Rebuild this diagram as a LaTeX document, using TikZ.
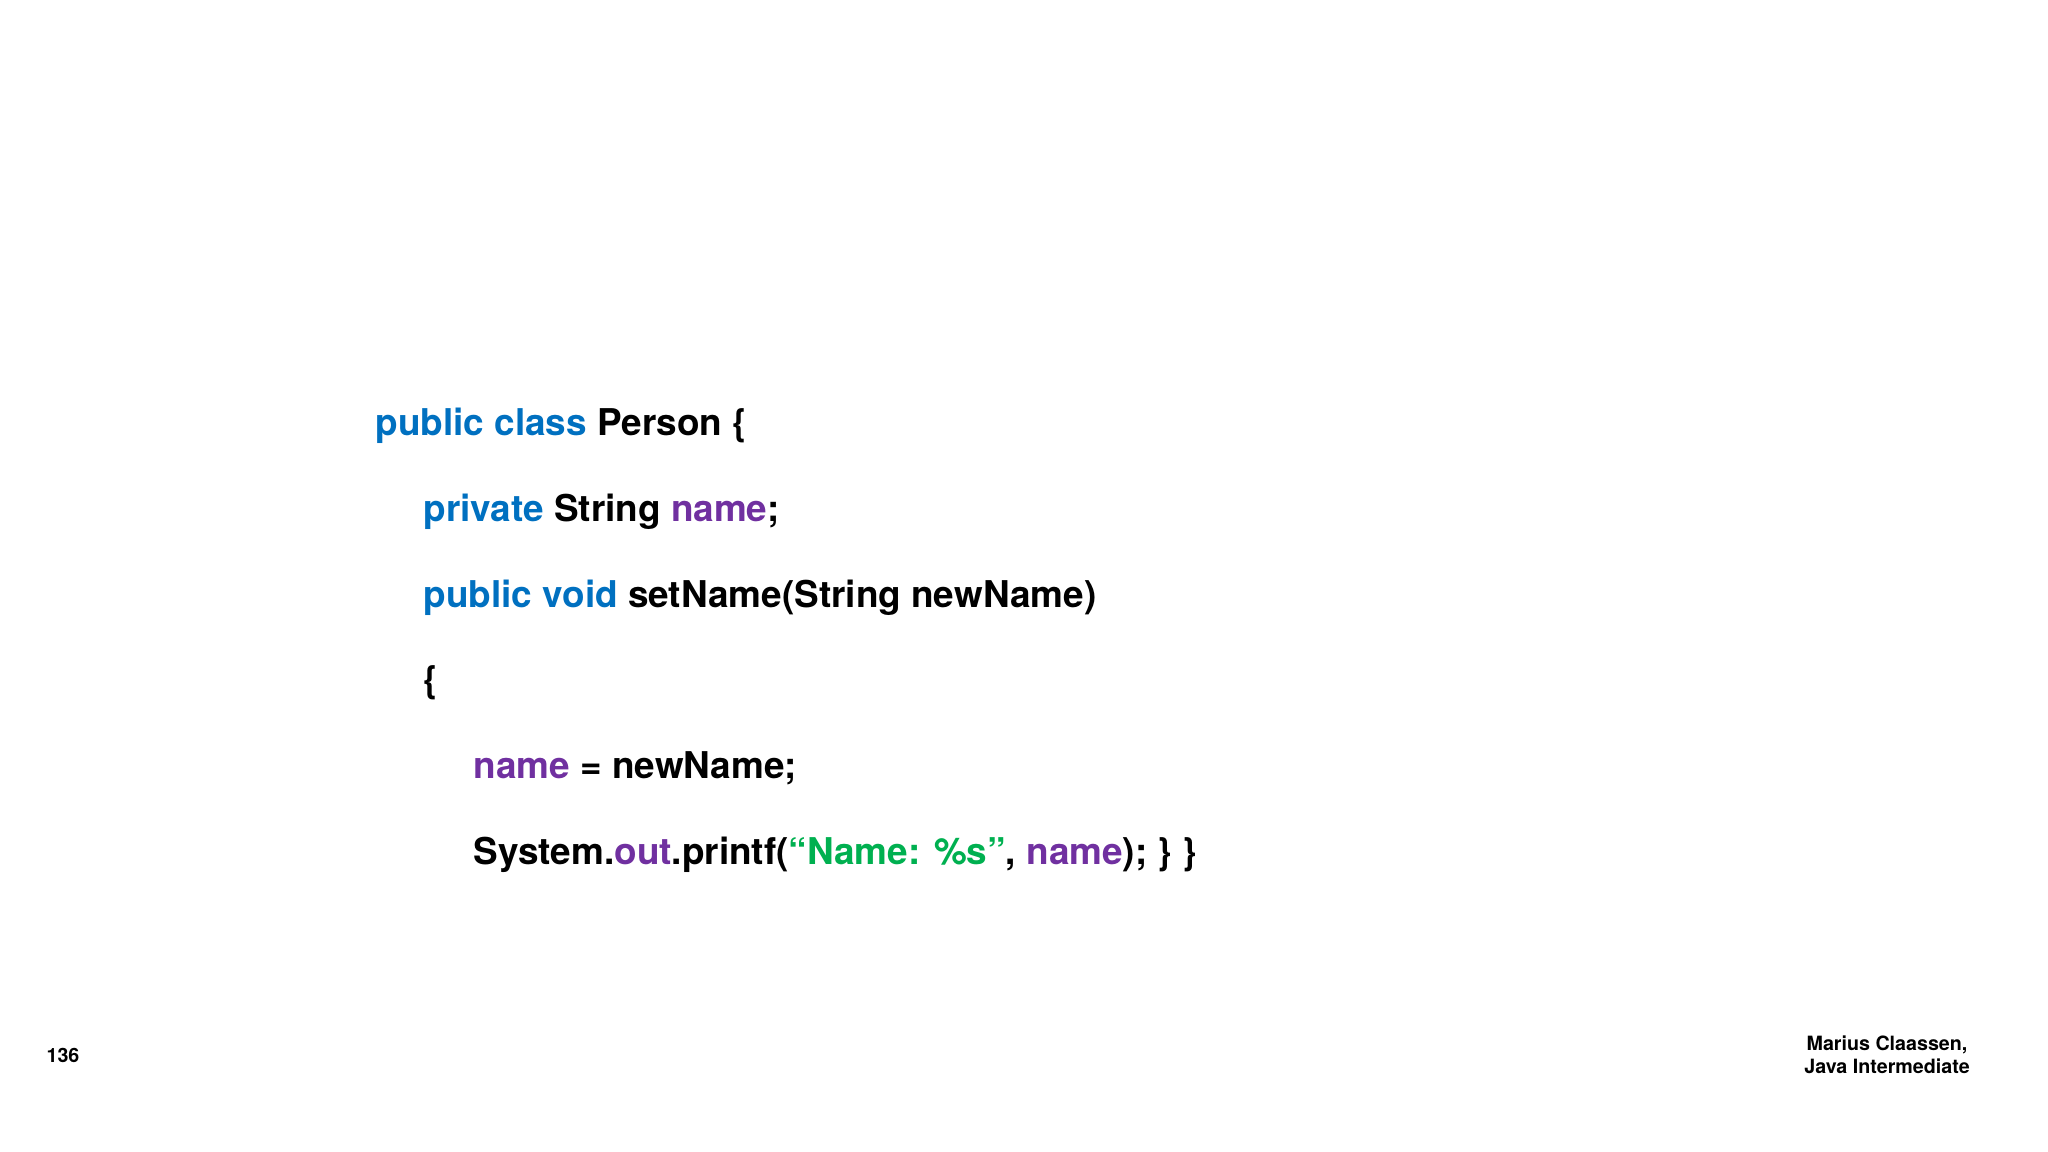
\documentclass[tikz,border=0pt]{standalone}
\usepackage{fontspec}
\setmainfont{TeX Gyre Heros}
\usetikzlibrary{positioning}
\definecolor{kwblue}{RGB}{0, 112, 192}
\definecolor{fldpurple}{RGB}{112, 48, 160}
\definecolor{strgreen}{RGB}{0, 176, 80}
\tikzset{
  code/.style={anchor=base west, inner sep=0, font=\fontsize{10.5pt}{12pt}\bfseries},
  foot/.style={inner sep=0, font=\fontsize{5.6pt}{6.6pt}\bfseries, align=center}
}
\newcommand{\kw}[1]{\textcolor{kwblue}{#1}}
\newcommand{\fld}[1]{\textcolor{fldpurple}{#1}}
\begin{document}
\begin{tikzpicture}
  \useasboundingbox (0,0) rectangle (20.48,11.52);
  \node[code] (cls) at (3.75,7.16) {\kw{public class} Person \{};
  \node[code] (fld) at (4.23,6.30) {\kw{private} String \fld{name};};
  \node[code] (mth) at (4.23,5.44) {\kw{public void} setName(String newName)};
  \node[code] (opn) at (4.23,4.59) {\{};
  \node[code] (asg) at (4.73,3.73) {\fld{name} = newName;};
  \node[code] (prt) at (4.73,2.87) {System.\fld{out}.printf(\textcolor{strgreen}{“Name: \%s”}, \fld{name}); \} \}};
  % footer
  \node[foot] (page) at (0.63,0.97) {136};
  \node[foot] (author) at (18.87,0.97) {Marius Claassen,\\Java Intermediate};
\end{tikzpicture}
\end{document}
